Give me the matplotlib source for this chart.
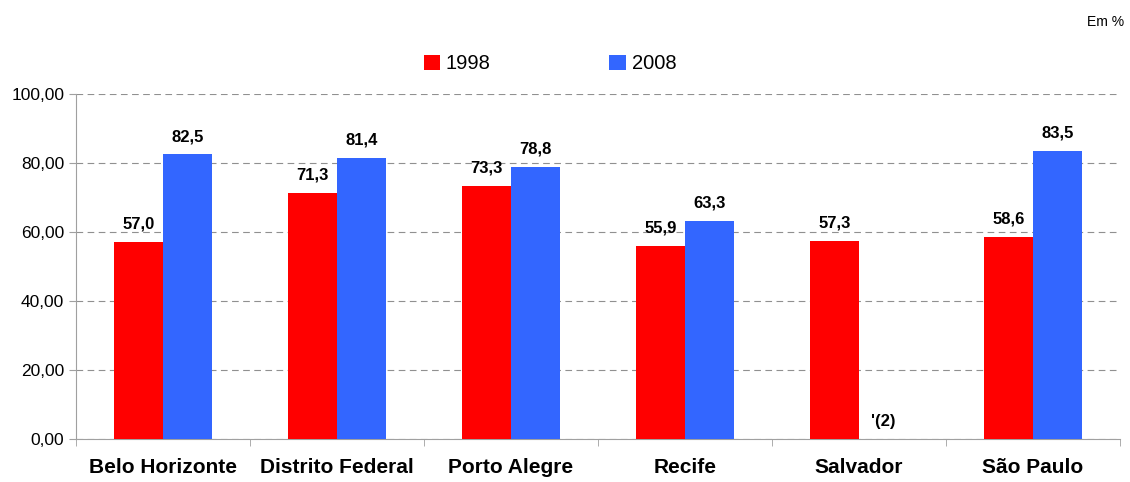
import numpy as np
from matplotlib import pyplot as plt

plt.rcParams['font.family'] = ['Liberation Sans', 'DejaVu Sans']

cidades = ['Belo Horizonte', 'Distrito Federal', 'Porto Alegre', 'Recife', 'Salvador', 'São Paulo']
v1998 = [57.0, 71.3, 73.3, 55.9, 57.3, 58.6]
v2008 = [82.5, 81.4, 78.8, 63.3, np.nan, 83.5]
rot2008 = ['82,5', '81,4', '78,8', '63,3', "'(2)", '83,5']

fig = plt.figure(figsize=(11.3, 4.82), dpi=100)
ax = fig.add_axes([0.0673, 0.0892, 0.9237, 0.7158])

x = np.arange(len(cidades))
w = 0.28
ax.bar(x - w/2, v1998, w, color='#ff0000', label='1998', zorder=3)
ax.bar(x + w/2, np.nan_to_num(v2008), w, color='#3366ff', label='2008', zorder=3)

for i in range(len(cidades)):
    ax.text(x[i] - w/2, v1998[i] + 3, ('%.1f' % v1998[i]).replace('.', ','),
            ha='center', va='bottom', fontsize=12, fontweight='bold')
    y2 = v2008[i] + 3 if not np.isnan(v2008[i]) else 3
    ax.text(x[i] + w/2, y2, rot2008[i], ha='center', va='bottom', fontsize=12, fontweight='bold')

ax.set_xlim(-0.5, len(cidades) - 0.5)
ax.set_ylim(0, 100)
ax.set_yticks(np.arange(0, 101, 20))
ax.set_yticklabels([('%.2f' % v).replace('.', ',') for v in np.arange(0, 101, 20)])
ax.set_xticks(x)
ax.set_xticklabels(cidades, fontsize=15, fontweight='bold')
ax.tick_params(axis='x', length=0, pad=14)
ax.set_xticks(np.arange(-0.5, len(cidades)), minor=True)
ax.tick_params(axis='x', which='minor', length=5, color='#a0a0a0')
ax.tick_params(axis='y', length=5, color='#a0a0a0', labelsize=12.5)

ax.grid(axis='y', color='#909090', linestyle=(0, (6, 4)), linewidth=0.8, zorder=0)
for s in ['top', 'right']:
    ax.spines[s].set_visible(False)
ax.spines['left'].set_color('#a0a0a0')
ax.spines['bottom'].set_color('#a0a0a0')

ax.legend(loc='center', bbox_to_anchor=(0.454, 1.087), ncol=2, frameon=False,
          fontsize=14.5, handlelength=0.8, handleheight=0.8, handletextpad=0.3, columnspacing=5.9)
fig.text(0.995, 0.955, 'Em %', ha='right', va='center', fontsize=10)

plt.savefig('out.png')
